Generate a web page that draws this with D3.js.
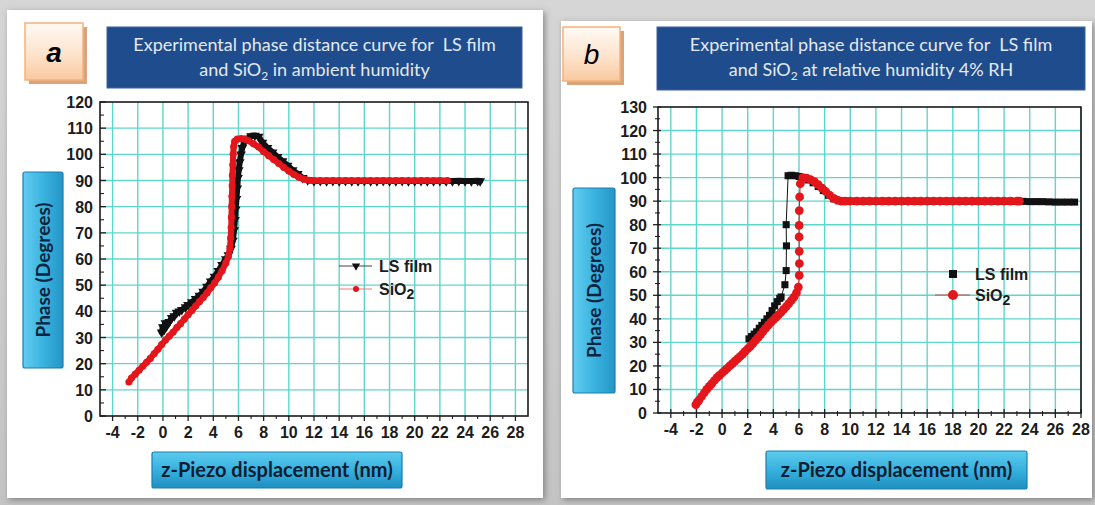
<!DOCTYPE html>
<html>
<head>
<meta charset="utf-8">
<script src="https://cdn.jsdelivr.net/npm/d3@7"></script>
<style>
  html, body { margin: 0; padding: 0; background: #c9c9c9; }
  svg { display: block; }
  text { white-space: pre; }
</style>
</head>
<body>
<svg id="fig" width="1095" height="505"></svg>
<script>
// Phase vs. z-piezo displacement: [displacement (nm), phase (degrees)]

// Panel a — ambient humidity
const lsFilmAmbient = [
  [-0.1, 32], [0.0, 34], [0.1, 33], [0.2, 35.5], [0.3, 34.5], [0.5, 36], [0.7, 37.5], [0.9, 38.2],
  [1.1, 39.5], [1.3, 40], [1.5, 40.6], [1.8, 41.6], [2.0, 42.5], [2.3, 43.5], [2.6, 44.8], [2.9, 46],
  [3.2, 47.5], [3.5, 49.5], [3.8, 51.5], [4.1, 53.3], [4.4, 55.5], [4.7, 57.8], [5.0, 60], [5.2, 61.5],
  [5.4, 64], [5.55, 67], [5.65, 71], [5.72, 75], [5.78, 79], [5.84, 83], [5.9, 87], [5.96, 91],
  [6.02, 94], [6.1, 97], [6.2, 100], [6.3, 102.5], [6.45, 104.5], [6.7, 106], [7.0, 107], [7.3, 107.2],
  [7.6, 106.8], [7.9, 104.5], [8.3, 102.5], [8.7, 100.8], [9.1, 99], [9.5, 97.4], [9.9, 95.7], [10.3, 94],
  [10.7, 92.5], [11.1, 91], [11.5, 90.2], [12.0, 89.8], [12.5, 89.9], [13.0, 89.8], [13.5, 89.9], [14.0, 89.8],
  [14.5, 89.9], [15.0, 89.8], [15.5, 89.8], [16.0, 89.9], [16.5, 89.8], [17.0, 89.8], [17.5, 89.9], [18.0, 89.8],
  [18.5, 89.8], [19.0, 89.9], [19.5, 89.8], [20.0, 89.8], [20.5, 89.9], [21.0, 89.8], [21.5, 89.8], [22.0, 89.9],
  [22.5, 89.8], [23.0, 89.8], [23.5, 89.9], [24.0, 89.8], [24.5, 89.8], [25.0, 89.9], [25.2, 89.8]
];
const sio2Ambient = [
  [-2.7, 13], [-2.5, 14.5], [-2.2, 16], [-1.9, 17.5], [-1.6, 19], [-1.3, 20.5], [-1.0, 22], [-0.7, 23.8],
  [-0.4, 25.5], [-0.1, 27.3], [0.2, 29], [0.5, 30.5], [0.8, 32], [1.1, 33.8], [1.4, 35.3], [1.7, 37],
  [2.0, 38.7], [2.3, 40.3], [2.6, 42], [2.9, 43.7], [3.2, 45.3], [3.5, 47], [3.8, 49], [4.1, 50.8],
  [4.4, 53], [4.7, 55.5], [5.0, 58.5], [5.2, 61], [5.32, 64], [5.38, 68], [5.42, 72], [5.44, 76],
  [5.46, 80], [5.48, 84], [5.5, 88], [5.52, 92], [5.55, 96], [5.58, 100], [5.62, 103], [5.7, 105],
  [5.9, 105.8], [6.2, 106], [6.5, 105.8], [6.8, 105.2], [7.2, 104], [7.6, 102.8], [8.0, 101], [8.4, 99.5],
  [8.8, 98], [9.2, 96.5], [9.6, 95], [10.0, 93.6], [10.4, 92.3], [10.8, 91.2], [11.2, 90.5], [11.6, 90.1],
  [12.0, 90], [12.5, 90], [13.0, 90], [13.5, 90], [14.0, 90], [14.5, 90], [15.0, 90], [15.5, 90],
  [16.0, 90], [16.5, 90], [17.0, 90], [17.5, 90], [18.0, 90], [18.5, 90], [19.0, 90], [19.5, 90],
  [20.0, 90], [20.5, 90], [21.0, 90], [21.5, 90], [22.0, 90], [22.6, 90]
];

// Panel b — relative humidity 4% RH
const lsFilmDry = [
  [2.1, 31.5], [2.3, 32.5], [2.5, 33.5], [2.7, 34.5], [2.9, 36], [3.1, 37.2], [3.3, 38.5], [3.5, 40],
  [3.7, 41.5], [3.9, 43.5], [4.1, 45.5], [4.3, 47.3], [4.5, 48.7], [4.6, 49.3], [4.9, 54.5], [5.0, 60.5],
  [5.02, 71], [5.0, 80], [5.15, 100.8], [5.4, 101], [5.7, 100.8], [6.0, 100.5], [6.3, 100], [6.7, 99],
  [7.1, 97.8], [7.5, 96.2], [7.9, 94.5], [8.3, 92.5], [8.7, 91], [9.1, 90.2], [9.5, 90], [10.0, 90],
  [10.5, 90], [11.0, 90], [11.5, 90], [12.0, 90], [12.5, 90], [13.0, 90], [13.5, 90], [14.0, 90],
  [14.5, 90], [15.0, 90], [15.5, 90], [16.0, 90], [16.5, 90], [17.0, 90], [17.5, 90], [18.0, 90],
  [18.5, 90], [19.0, 90], [19.5, 90], [20.0, 90], [20.5, 90], [21.0, 90], [21.5, 90], [22.0, 90],
  [22.5, 90], [23.0, 89.9], [23.5, 89.9], [24.0, 89.8], [24.5, 89.8], [25.0, 89.8], [25.5, 89.7], [26.0, 89.6],
  [26.5, 89.6], [27.0, 89.6], [27.5, 89.6]
];
const sio2Dry = [
  [-2.05, 3.5], [-1.95, 4.5], [-1.8, 5.5], [-1.6, 7], [-1.4, 8.5], [-1.2, 10], [-1.0, 11.3], [-0.8, 12.5],
  [-0.6, 13.8], [-0.4, 15], [-0.2, 16], [0.0, 17], [0.2, 18], [0.4, 19], [0.6, 20], [0.8, 21],
  [1.0, 22], [1.2, 23], [1.4, 24], [1.6, 25], [1.8, 26.2], [2.0, 27.3], [2.2, 28.3], [2.4, 29.5],
  [2.6, 30.8], [2.8, 32], [3.0, 33.3], [3.2, 34.7], [3.4, 36], [3.6, 37.3], [3.8, 38.5], [4.0, 39.5],
  [4.2, 40.6], [4.4, 41.7], [4.6, 42.8], [4.8, 44], [5.0, 45.2], [5.2, 46.5], [5.4, 47.8], [5.6, 49.2],
  [5.8, 51], [5.95, 53.5], [6.02, 58.5], [6.03, 63.5], [6.02, 68.7], [6.01, 74.8], [6.01, 79.7], [6.02, 86],
  [6.05, 91.8], [6.1, 97.4], [6.3, 100], [6.6, 99.8], [6.9, 99.2], [7.2, 98.3], [7.5, 97], [7.8, 95.5],
  [8.1, 94], [8.4, 92.5], [8.7, 91.2], [9.0, 90.4], [9.3, 90], [9.6, 90], [10.0, 90], [10.5, 90],
  [11.0, 90], [11.5, 90], [12.0, 90], [12.5, 90], [13.0, 90], [13.5, 90], [14.0, 90], [14.5, 90],
  [15.0, 90], [15.5, 90], [16.0, 90], [16.5, 90], [17.0, 90], [17.5, 90], [18.0, 90], [18.5, 90],
  [19.0, 90], [19.5, 90], [20.0, 90], [20.5, 90], [21.0, 90], [21.5, 90], [22.0, 90], [22.5, 90],
  [23.0, 90], [23.2, 90]
];

// Axis ticks
const xTickValues = [-4, -2, 0, 2, 4, 6, 8, 10, 12, 14, 16, 18, 20, 22, 24, 26, 28];
const yTicksAmbient = [0, 10, 20, 30, 40, 50, 60, 70, 80, 90, 100, 110, 120];
const yTicksDry = [0, 10, 20, 30, 40, 50, 60, 70, 80, 90, 100, 110, 120, 130];

// Text
const seriesNames = ["LS film", "SiO"];
const xAxisTitle = "z-Piezo displacement (nm)";
const yAxisTitle = "Phase (Degrees)";
const titleLine1 = "Experimental phase distance curve for  LS film";
const titleLine2a = [" in ambient humidity"];
const titleLine2b = [" at relative humidity 4% RH"];

const GRID = "#5fd6cc";
const RED = "#e3161b";
const BLACK = "#111";
const TICK_FONT = "'Liberation Sans', Arial, sans-serif";
const TITLE_FONT = "Lato, 'Open Sans', sans-serif";

const svg = d3.select("#fig");
const defs = svg.append("defs");

// shared effects
const sh = defs.append("filter").attr("id", "cardShadow").attr("x", "-5%").attr("y", "-5%").attr("width", "110%").attr("height", "110%");
sh.append("feDropShadow").attr("dx", 2).attr("dy", 2).attr("stdDeviation", 3).attr("flood-color", "#555").attr("flood-opacity", 0.6);

const bg = defs.append("linearGradient").attr("id", "pageGrad").attr("x1", 0).attr("y1", 0).attr("x2", 0).attr("y2", 1);
bg.append("stop").attr("offset", "0").attr("stop-color", "#d6d6d6");
bg.append("stop").attr("offset", "1").attr("stop-color", "#c4c4c4");

const tagGrad = defs.append("linearGradient").attr("id", "tagGrad").attr("x1", 0).attr("y1", 0).attr("x2", 0).attr("y2", 1);
tagGrad.append("stop").attr("offset", "0").attr("stop-color", "#fffaf5");
tagGrad.append("stop").attr("offset", "0.55").attr("stop-color", "#fde3cc");
tagGrad.append("stop").attr("offset", "1").attr("stop-color", "#f9c9a0");

const vGrad = defs.append("linearGradient").attr("id", "vLabelGrad").attr("x1", 0).attr("y1", 0).attr("x2", 1).attr("y2", 0);
vGrad.append("stop").attr("offset", "0").attr("stop-color", "#62cdf0");
vGrad.append("stop").attr("offset", "0.5").attr("stop-color", "#3ab3e0");
vGrad.append("stop").attr("offset", "1").attr("stop-color", "#2496c6");

const hGrad = defs.append("linearGradient").attr("id", "hLabelGrad").attr("x1", 0).attr("y1", 0).attr("x2", 0).attr("y2", 1);
hGrad.append("stop").attr("offset", "0").attr("stop-color", "#5ccbee");
hGrad.append("stop").attr("offset", "0.55").attr("stop-color", "#34aedc");
hGrad.append("stop").attr("offset", "1").attr("stop-color", "#1f8fc0");

svg.append("rect").attr("width", 1095).attr("height", 505).attr("fill", "url(#pageGrad)");

const panels = [
  {
    tag: "a", tagBold: true,
    card: { x: 7, y: 10, w: 536, h: 488 },
    tagBox: { x: 25, y: 23, w: 58, h: 57 },
    titleBox: { x: 107, y: 27, w: 415, h: 61 },
    line2: titleLine2a,
    yBox: { x: 23, y: 172, w: 40, h: 196 },
    xBox: { x: 152, y: 452, w: 250, h: 36 },
    plot: { x0: 100, x1: 528, y0: 102, y1: 416 },
    xDomain: [-5, 29], yTicks: yTicksAmbient, yMax: 120,
    series: [
      { data: lsFilmAmbient, color: BLACK, shape: "tri", size: 42, lineWidth: 6 },
      { data: sio2Ambient, color: RED, shape: "circle", size: 40, lineWidth: 6 }
    ],
    tickInside: true,
    legend: { x: 356, y: 266, dy: 23, textX: 379, kind: "a" }
  },
  {
    tag: "b", tagBold: false,
    card: { x: 561, y: 21, w: 531, h: 477 },
    tagBox: { x: 563, y: 27, w: 57, h: 54 },
    titleBox: { x: 657, y: 27, w: 428, h: 63 },
    line2: titleLine2b,
    yBox: { x: 573, y: 188, w: 42, h: 205 },
    xBox: { x: 766, y: 451, w: 261, h: 38 },
    plot: { x0: 658, x1: 1081, y0: 107, y1: 413 },
    xDomain: [-5, 28], yTicks: yTicksDry, yMax: 130,
    series: [
      { data: lsFilmDry, color: BLACK, shape: "square", size: 50, lineWidth: 1 },
      { data: sio2Dry, color: RED, shape: "circle", size: 60, lineWidth: 1 }
    ],
    tickInside: false,
    legend: { x: 953, y: 274, dy: 21, textX: 975, kind: "b" }
  }
];

function addSub(textSel, base, sub, rest, subSize) {
  textSel.append("tspan").text(base);
  textSel.append("tspan").attr("dy", 4).attr("font-size", subSize).text(sub);
  if (rest) textSel.append("tspan").attr("dy", -4).text(rest);
}

panels.forEach(p => {
  const g = svg.append("g");

  // card
  g.append("rect").attr("x", p.card.x).attr("y", p.card.y).attr("width", p.card.w).attr("height", p.card.h)
    .attr("fill", "#fff").attr("filter", "url(#cardShadow)");

  // letter tag
  g.append("rect").attr("x", p.tagBox.x + 4).attr("y", p.tagBox.y + 4).attr("width", p.tagBox.w).attr("height", p.tagBox.h)
    .attr("fill", "#d9a37c");
  g.append("rect").attr("x", p.tagBox.x).attr("y", p.tagBox.y).attr("width", p.tagBox.w).attr("height", p.tagBox.h)
    .attr("fill", "url(#tagGrad)").attr("stroke", "#f3b27c").attr("stroke-width", 1.5);
  g.append("text").attr("x", p.tagBox.x + p.tagBox.w / 2).attr("y", p.tagBox.y + p.tagBox.h / 2 + 10)
    .attr("text-anchor", "middle").attr("font-family", "'Liberation Sans', Arial, sans-serif")
    .attr("font-style", "italic").attr("font-weight", p.tagBold ? "bold" : "normal")
    .attr("font-size", 28).attr("fill", "#000").text(p.tag);

  // title banner
  g.append("rect").attr("x", p.titleBox.x).attr("y", p.titleBox.y).attr("width", p.titleBox.w).attr("height", p.titleBox.h)
    .attr("fill", "#1e4c8c").attr("stroke", "#3c64a0").attr("stroke-width", 1);
  const tcx = p.titleBox.x + p.titleBox.w / 2;
  g.append("text").attr("x", tcx).attr("y", p.titleBox.y + 24).attr("text-anchor", "middle")
    .attr("font-family", TITLE_FONT).attr("font-size", 18).attr("fill", "#e4e9f0").text(titleLine1);
  const t2 = g.append("text").attr("x", tcx).attr("y", p.titleBox.y + 49).attr("text-anchor", "middle")
    .attr("font-family", TITLE_FONT).attr("font-size", 18).attr("fill", "#e4e9f0");
  addSub(t2, "and SiO", "2", p.line2[0], 12);

  // axis title boxes
  g.append("rect").attr("x", p.yBox.x).attr("y", p.yBox.y).attr("width", p.yBox.w).attr("height", p.yBox.h)
    .attr("rx", 2).attr("fill", "url(#vLabelGrad)").attr("stroke", "#1b7fb0").attr("stroke-width", 1.2);
  g.append("text")
    .attr("transform", `translate(${p.yBox.x + p.yBox.w / 2 + 7},${p.yBox.y + p.yBox.h / 2}) rotate(-90)`)
    .attr("text-anchor", "middle").attr("font-family", TITLE_FONT).attr("font-weight", "bold")
    .attr("font-size", 19).attr("fill", "#0b2440").text(yAxisTitle);

  g.append("rect").attr("x", p.xBox.x).attr("y", p.xBox.y).attr("width", p.xBox.w).attr("height", p.xBox.h)
    .attr("rx", 2).attr("fill", "url(#hLabelGrad)").attr("stroke", "#1b7fb0").attr("stroke-width", 1.2);
  g.append("text").attr("x", p.xBox.x + p.xBox.w / 2).attr("y", p.xBox.y + p.xBox.h / 2 + 7)
    .attr("text-anchor", "middle").attr("font-family", TITLE_FONT).attr("font-weight", "bold")
    .attr("font-size", 20).attr("fill", "#0b1d33").text(xAxisTitle);

  // scales
  const x = d3.scaleLinear().domain(p.xDomain).range([p.plot.x0, p.plot.x1]);
  const y = d3.scaleLinear().domain([0, p.yMax]).range([p.plot.y1, p.plot.y0]);

  // grid
  const grid = g.append("g");
  grid.selectAll("line.v").data(xTickValues).join("line")
    .attr("x1", d => x(d)).attr("x2", d => x(d)).attr("y1", p.plot.y0).attr("y2", p.plot.y1)
    .attr("stroke", GRID).attr("stroke-width", 1.4);
  grid.selectAll("line.h").data(p.yTicks.filter(v => v > 0 && v < p.yMax)).join("line")
    .attr("x1", p.plot.x0).attr("x2", p.plot.x1).attr("y1", d => y(d)).attr("y2", d => y(d))
    .attr("stroke", GRID).attr("stroke-width", 1.4);

  // axes
  const xMinor = d3.range(p.xDomain[0] + 1, p.xDomain[1], 1).filter(v => v % 2 !== 0);
  const yMinor = d3.range(5, p.yMax, 10);
  const axG = g.append("g").attr("stroke", "#222");
  const tIn = p.tickInside ? 0 : 4;
  // y ticks
  axG.selectAll("line.ym").data(p.yTicks).join("line")
    .attr("x1", p.plot.x0 - (p.tickInside ? 0 : 5)).attr("x2", p.plot.x0 + (p.tickInside ? 6 : 3))
    .attr("y1", d => y(d)).attr("y2", d => y(d)).attr("stroke-width", 1.3);
  axG.selectAll("line.yn").data(yMinor).join("line")
    .attr("x1", p.plot.x0 - (p.tickInside ? 0 : 3)).attr("x2", p.plot.x0 + (p.tickInside ? 4 : 2))
    .attr("y1", d => y(d)).attr("y2", d => y(d)).attr("stroke-width", 1.1);
  // x ticks
  axG.selectAll("line.xm").data(xTickValues).join("line")
    .attr("x1", d => x(d)).attr("x2", d => x(d))
    .attr("y1", p.plot.y1 - tIn).attr("y2", p.plot.y1 + 5).attr("stroke-width", 1.3);
  axG.selectAll("line.xn").data(xMinor).join("line")
    .attr("x1", d => x(d)).attr("x2", d => x(d))
    .attr("y1", p.plot.y1 - (p.tickInside ? 0 : 2)).attr("y2", p.plot.y1 + 3).attr("stroke-width", 1.1);

  // frame
  g.append("rect").attr("x", p.plot.x0).attr("y", p.plot.y0)
    .attr("width", p.plot.x1 - p.plot.x0).attr("height", p.plot.y1 - p.plot.y0)
    .attr("fill", "none").attr("stroke", "#1a1a1a").attr("stroke-width", 1.6);

  // tick labels
  g.selectAll("text.yl").data(p.yTicks).join("text")
    .attr("x", p.plot.x0 - (p.tickInside ? 7 : 11)).attr("y", d => y(d) + 6)
    .attr("text-anchor", "end").attr("font-family", TICK_FONT).attr("font-weight", "bold")
    .attr("font-size", 16).attr("fill", "#1c1c1c").text(d => d);
  g.selectAll("text.xl").data(xTickValues).join("text")
    .attr("x", d => x(d)).attr("y", p.plot.y1 + 22)
    .attr("text-anchor", "middle").attr("font-family", TICK_FONT).attr("font-weight", "bold")
    .attr("font-size", 16).attr("fill", "#1c1c1c").text(d => d);

  // series
  const line = d3.line().x(d => x(d[0])).y(d => y(d[1]));
  const symType = { tri: d3.symbolTriangle, square: d3.symbolSquare, circle: d3.symbolCircle };
  p.series.forEach(s => {
    g.append("path").datum(s.data).attr("d", line).attr("fill", "none")
      .attr("stroke", s.color).attr("stroke-width", s.lineWidth).attr("stroke-linejoin", "round").attr("stroke-linecap", "round");
    const sym = d3.symbol().type(symType[s.shape]).size(s.size);
    g.append("g").selectAll("path").data(s.data).join("path")
      .attr("d", sym)
      .attr("transform", d => `translate(${x(d[0])},${y(d[1])})` + (s.shape === "tri" ? " rotate(180)" : ""))
      .attr("fill", s.color);
  });

  // legend
  const L = p.legend;
  const lg = g.append("g").attr("font-family", TICK_FONT).attr("font-weight", "bold").attr("font-size", 16).attr("fill", "#1c1c1c");
  if (L.kind === "a") {
    lg.append("line").attr("x1", L.x - 17).attr("x2", L.x + 16).attr("y1", L.y).attr("y2", L.y).attr("stroke", "#444").attr("stroke-width", 1);
    lg.append("path").attr("d", d3.symbol().type(d3.symbolTriangle).size(30)).attr("transform", `translate(${L.x},${L.y}) rotate(180)`).attr("fill", BLACK);
    lg.append("line").attr("x1", L.x - 17).attr("x2", L.x + 16).attr("y1", L.y + L.dy).attr("y2", L.y + L.dy).attr("stroke", "#e77").attr("stroke-width", 1);
    lg.append("circle").attr("cx", L.x).attr("cy", L.y + L.dy).attr("r", 3).attr("fill", RED);
  } else {
    lg.append("rect").attr("x", L.x - 4).attr("y", L.y - 4).attr("width", 8).attr("height", 8).attr("fill", BLACK);
    lg.append("line").attr("x1", L.x - 18).attr("x2", L.x + 17).attr("y1", L.y + L.dy).attr("y2", L.y + L.dy).attr("stroke", "#b55").attr("stroke-width", 1);
    lg.append("circle").attr("cx", L.x).attr("cy", L.y + L.dy).attr("r", 5).attr("fill", RED);
  }
  lg.append("text").attr("x", L.textX).attr("y", L.y + 6).text(seriesNames[0]);
  const st = lg.append("text").attr("x", L.textX).attr("y", L.y + L.dy + 6);
  addSub(st, seriesNames[1], "2", null, 14);
});
</script>
</body>
</html>
